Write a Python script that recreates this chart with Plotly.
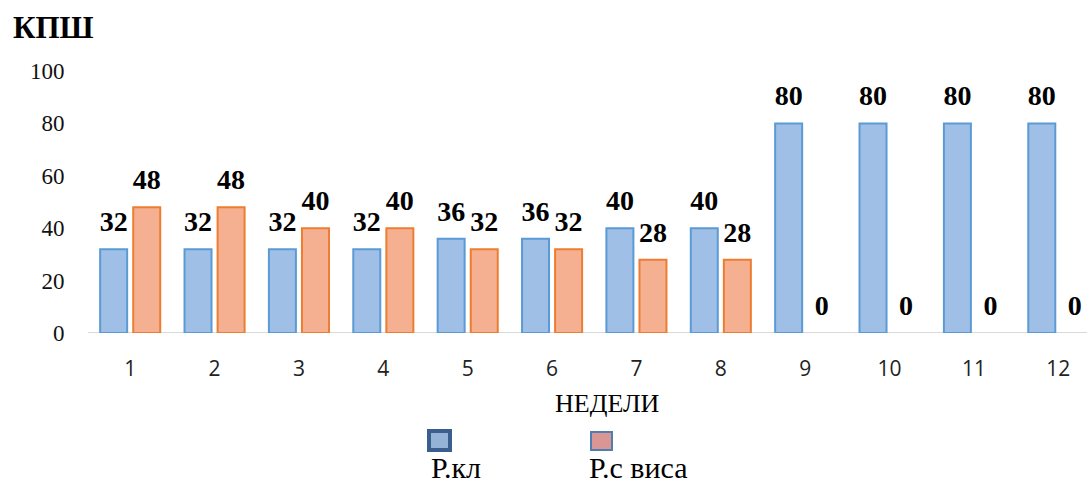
import plotly.graph_objects as go

weeks = [1, 2, 3, 4, 5, 6, 7, 8, 9, 10, 11, 12]
r_kl = [32, 32, 32, 32, 36, 36, 40, 40, 80, 80, 80, 80]
r_s_visa = [48, 48, 40, 40, 32, 32, 28, 28, 0, 0, 0, 0]
y_ticks = [0, 20, 40, 60, 80, 100]

SERIF = "Liberation Serif"
SANS = "Open Sans"

FIG_W, FIG_H = 1087, 484

# plot area, in pixels
L, T, BASE, R = 88, 71, 333, 1087
W, H = R - L, BASE - T

bar_w = 0.32
off_kl, off_visa = -0.356, 0.036


def px_x(p):
    return (p - L) / W


def px_y(p):
    return (BASE - p) / H


fig = go.Figure()
fig.add_trace(go.Bar(x=weeks, y=r_kl, name="Р.кл", width=bar_w, offset=off_kl,
                     marker=dict(color="#a0bfe6", line=dict(color="#5b9bd5", width=2))))
fig.add_trace(go.Bar(x=weeks, y=r_s_visa, name="Р.с виса", width=bar_w, offset=off_visa,
                     marker=dict(color="#f5b092",
                                 line=dict(color="#ed7d31",
                                           width=[2 if v else 0 for v in r_s_visa]))))

# value labels above the bars
for vals, off in ((r_kl, off_kl), (r_s_visa, off_visa)):
    fig.add_trace(go.Scatter(
        x=[w + off + bar_w / 2 for w in weeks], y=vals,
        text=["<b>%d</b>" % v for v in vals],
        mode="markers+text", textposition="top center",
        marker=dict(size=16, opacity=0), cliponaxis=False,
        textfont=dict(family=SERIF, size=28, color="#000000"),
        hoverinfo="skip", showlegend=False))

fig.update_layout(
    width=FIG_W, height=FIG_H,
    margin=dict(l=L, r=FIG_W - R, t=T, b=FIG_H - BASE),
    plot_bgcolor="white", paper_bgcolor="white",
    showlegend=False,
    barmode="overlay",
    xaxis=dict(range=[0.5, 12.34], tickvals=weeks, ticktext=[str(w) for w in weeks],
               showgrid=False, zeroline=False, showline=False,
               ticks="outside", ticklen=0, ticklabelstandoff=17,
               tickfont=dict(family=SANS, size=21, color="#222222")),
    yaxis=dict(range=[0, 100], tickvals=y_ticks, showgrid=False, zeroline=False,
               showline=False, ticks="outside", ticklen=0, ticklabelstandoff=18,
               tickfont=dict(family=SERIF, size=23, color="#111111")),
)

# baseline
fig.add_shape(type="line", xref="paper", yref="y", x0=0, x1=1, y0=0, y1=0,
              line=dict(color="#d9d9d9", width=2), layer="below")

fig.add_annotation(text="<b>КПШ</b>", xref="paper", yref="paper", x=px_x(11), y=px_y(28),
                   xanchor="left", yanchor="middle", showarrow=False,
                   font=dict(family=SERIF, size=31, color="#000000"))
fig.add_annotation(text="НЕДЕЛИ", xref="paper", yref="paper", x=px_x(607), y=px_y(403),
                   xanchor="center", yanchor="middle", showarrow=False,
                   font=dict(family=SERIF, size=26, color="#000000"))

# legend drawn by hand: box above its label
fig.add_shape(type="rect", xref="paper", yref="paper",
              x0=px_x(429), x1=px_x(450), y0=px_y(450), y1=px_y(431),
              fillcolor="#95b3d7", line=dict(color="#3a5f8f", width=4))
fig.add_shape(type="rect", xref="paper", yref="paper",
              x0=px_x(591), x1=px_x(612), y0=px_y(450), y1=px_y(432),
              fillcolor="#d99694", line=dict(color="#4f7fb0", width=2))
fig.add_annotation(text="Р.кл", xref="paper", yref="paper", x=px_x(429), y=px_y(467),
                   xanchor="left", yanchor="middle", showarrow=False,
                   font=dict(family=SERIF, size=30, color="#000000"))
fig.add_annotation(text="Р.с виса", xref="paper", yref="paper", x=px_x(587), y=px_y(467),
                   xanchor="left", yanchor="middle", showarrow=False,
                   font=dict(family=SERIF, size=30, color="#000000"))

# drop the default body margin so the figure sits at the page corner
fig.write_html("out.html", config={"displayModeBar": False},
               post_script="document.body.style.margin = '0';")
